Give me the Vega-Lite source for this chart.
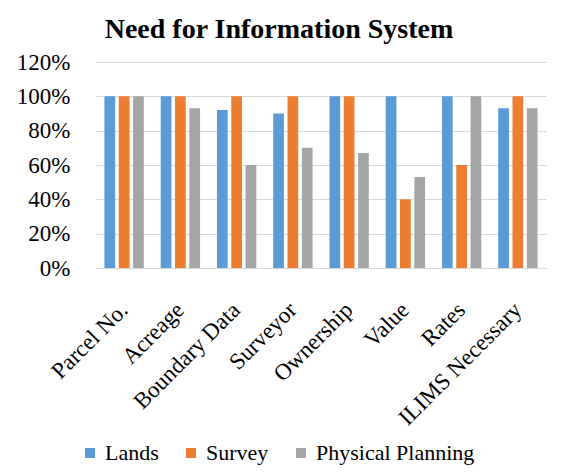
{
  "$schema": "https://vega.github.io/schema/vega-lite/v6.json",
  "width": 450,
  "height": 206,
  "autosize": {"type": "none"},
  "padding": {"left": 96, "top": 62, "right": 23, "bottom": 204},
  "background": "white",
  "title": {
    "text": "Need for Information System",
    "font": "Liberation Serif",
    "fontSize": 28,
    "fontWeight": "bold",
    "color": "#000000",
    "anchor": "middle",
    "dx": -42,
    "offset": 7
  },
  "data": {
    "values": [
      {"item": "Parcel No.", "dept": "Lands", "share": 1.00},
      {"item": "Parcel No.", "dept": "Survey", "share": 1.00},
      {"item": "Parcel No.", "dept": "Physical Planning", "share": 1.00},
      {"item": "Acreage", "dept": "Lands", "share": 1.00},
      {"item": "Acreage", "dept": "Survey", "share": 1.00},
      {"item": "Acreage", "dept": "Physical Planning", "share": 0.93},
      {"item": "Boundary Data", "dept": "Lands", "share": 0.92},
      {"item": "Boundary Data", "dept": "Survey", "share": 1.00},
      {"item": "Boundary Data", "dept": "Physical Planning", "share": 0.60},
      {"item": "Surveyor", "dept": "Lands", "share": 0.90},
      {"item": "Surveyor", "dept": "Survey", "share": 1.00},
      {"item": "Surveyor", "dept": "Physical Planning", "share": 0.70},
      {"item": "Ownership", "dept": "Lands", "share": 1.00},
      {"item": "Ownership", "dept": "Survey", "share": 1.00},
      {"item": "Ownership", "dept": "Physical Planning", "share": 0.67},
      {"item": "Value", "dept": "Lands", "share": 1.00},
      {"item": "Value", "dept": "Survey", "share": 0.40},
      {"item": "Value", "dept": "Physical Planning", "share": 0.53},
      {"item": "Rates", "dept": "Lands", "share": 1.00},
      {"item": "Rates", "dept": "Survey", "share": 0.60},
      {"item": "Rates", "dept": "Physical Planning", "share": 1.00},
      {"item": "ILIMS Necessary", "dept": "Lands", "share": 0.93},
      {"item": "ILIMS Necessary", "dept": "Survey", "share": 1.00},
      {"item": "ILIMS Necessary", "dept": "Physical Planning", "share": 0.93}
    ]
  },
  "mark": {"type": "bar"},
  "encoding": {
    "x": {
      "field": "item",
      "type": "nominal",
      "sort": null,
      "title": null,
      "scale": {"paddingInner": 0.3, "paddingOuter": 0.15},
      "axis": {
        "labelAngle": -45,
        "labelAlign": "right",
        "labelBaseline": "middle",
        "labelPadding": 38,
        "labelFontSize": 23,
        "labelColor": "#000000",
        "ticks": false,
        "domainColor": "#D9D9D9",
        "labelLimit": 300
      }
    },
    "xOffset": {
      "field": "dept",
      "type": "nominal",
      "sort": ["Lands", "Survey", "Physical Planning"],
      "scale": {"paddingInner": 0.25}
    },
    "y": {
      "field": "share",
      "type": "quantitative",
      "title": null,
      "scale": {"domain": [0, 1.2], "nice": false},
      "axis": {
        "values": [0, 0.2, 0.4, 0.6, 0.8, 1.0, 1.2],
        "format": ".0%",
        "labelFontSize": 23,
        "labelColor": "#000000",
        "labelPadding": 26,
        "ticks": false,
        "domain": false,
        "gridColor": "#D9D9D9",
        "gridWidth": 1
      }
    },
    "color": {
      "field": "dept",
      "type": "nominal",
      "sort": ["Lands", "Survey", "Physical Planning"],
      "scale": {
        "domain": ["Lands", "Survey", "Physical Planning"],
        "range": ["#5B9BD5", "#ED7D31", "#A5A5A5"]
      },
      "legend": {
        "title": null,
        "orient": "none",
        "direction": "horizontal",
        "legendX": -17,
        "legendY": 380,
        "symbolType": "square",
        "symbolSize": 100,
        "symbolStrokeWidth": 0,
        "labelFont": "Liberation Serif",
        "labelFontSize": 22,
        "labelColor": "#000000",
        "labelOffset": 4,
        "columnPadding": 21
      }
    }
  },
  "config": {
    "font": "Liberation Serif",
    "view": {"stroke": null}
  }
}
